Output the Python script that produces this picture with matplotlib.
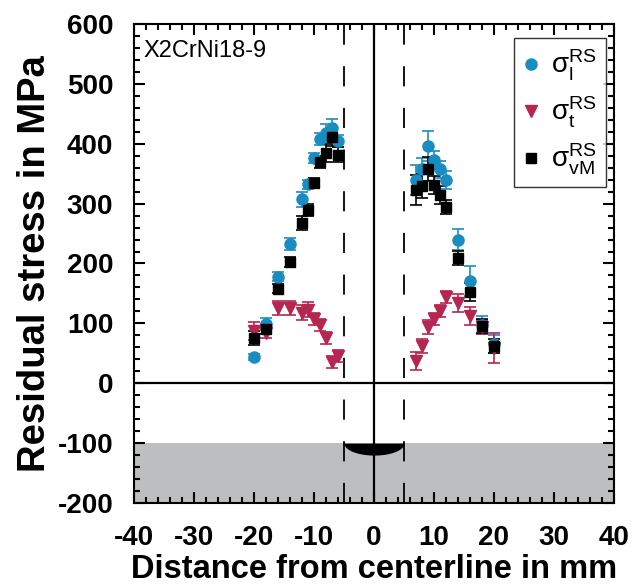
import numpy as np
import matplotlib
matplotlib.use('Agg')
import matplotlib.pyplot as plt
from matplotlib.ticker import MultipleLocator

plt.rcParams['font.family'] = ['Liberation Sans', 'DejaVu Sans']
plt.rcParams['mathtext.fontset'] = 'custom'
plt.rcParams['mathtext.rm'] = 'Liberation Sans'
plt.rcParams['mathtext.it'] = 'Liberation Sans:italic'
plt.rcParams['lines.scale_dashes'] = False
plt.rcParams['axes.unicode_minus'] = False

# positions (mm)
x_left = [-20, -18, -16, -14, -12, -11, -10, -9, -8, -7, -6]
x_right = [7, 8, 9, 10, 11, 12, 14, 16, 18, 20]

# longitudinal residual stress
sl_left = [43, 99, 178, 233, 307, 332, 376, 408, 418, 427, 404]
sl_right = [340, 357, 397, 373, 357, 339, 240, 171, 98, 65]
sl_err_left = [5, 10, 8, 10, 12, 8, 8, 10, 15, 15, 10]
sl_err_right = [25, 20, 25, 15, 15, 15, 18, 25, 15, 15]

# transverse residual stress
st_left = [87, 84, 126, 126, 118, 123, 107, 97, 76, 35, 45]
st_right = [37, 62, 94, 107, 120, 144, 134, 112, 94, 59]
st_err_left = [15, 8, 12, 12, 12, 12, 10, 10, 10, 10, 10]
st_err_right = [15, 12, 12, 10, 10, 10, 15, 15, 12, 25]

# von Mises equivalent
svm_left = [76, 91, 158, 202, 268, 290, 334, 370, 385, 411, 382]
svm_right = [322, 329, 358, 331, 314, 294, 209, 152, 96, 62]
svm_err_left = [12, 8, 8, 8, 12, 10, 8, 10, 15, 15, 12]
svm_err_right = [25, 20, 20, 15, 15, 12, 12, 15, 12, 12]

blue = '#1a8dc0'
red = '#b52650'

fig = plt.figure(figsize=(6.36, 5.88), dpi=100)
ax = fig.add_axes([0.2107, 0.1446, 0.7547, 0.8146])

# plate region and weld seam
ax.axhspan(-200, -100, color='#bcbec0', zorder=0, lw=0)
weld_half = 5
weld_depth = 20
xw = np.linspace(-weld_half, weld_half, 200)
ax.fill_between(xw, -100, -100 - weld_depth * np.sqrt(1 - (xw / weld_half) ** 2),
                color='black', zorder=1, lw=0)

ax.axhline(0, color='black', lw=1.6, zorder=2)
ax.axvline(0, color='black', lw=1.6, zorder=2)
for xv in (-weld_half, weld_half):
    ax.axvline(xv, color='black', lw=1.3, dashes=(14.5, 15.5), zorder=2)

x_all = x_left + x_right
ekw = dict(ls='none', elinewidth=1.2, capsize=4, capthick=1.2, zorder=4)
ax.errorbar(x_all, sl_left + sl_right, yerr=sl_err_left + sl_err_right,
            fmt='o', color=blue, ms=8, mec=blue, **ekw)
ax.errorbar(x_all, st_left + st_right, yerr=st_err_left + st_err_right,
            fmt='v', color=red, ms=9, **ekw)
ax.errorbar(x_all, svm_left + svm_right, yerr=svm_err_left + svm_err_right,
            fmt='s', color='black', ms=7, **ekw)

# legend handles (markers only)
h1, = ax.plot([], [], 'o', color=blue, ms=8)
h2, = ax.plot([], [], 'v', color=red, ms=9)
h3, = ax.plot([], [], 's', color='black', ms=7)
leg = ax.legend([h1, h2, h3],
                [r'$\mathrm{σ}_\mathrm{l}^\mathrm{RS}$',
                 r'$\mathrm{σ}_\mathrm{t}^\mathrm{RS}$',
                 r'$\mathrm{σ}_\mathrm{vM}^\mathrm{RS}$'],
                loc='upper right', bbox_to_anchor=(0.983, 0.97), fontsize=20,
                frameon=True, fancybox=False, edgecolor='black',
                handlelength=0.5, handletextpad=0.45, labelspacing=0.42,
                borderpad=0.35, borderaxespad=0)
leg.get_frame().set_linewidth(1.0)

ax.text(-38.5, 555, 'X2CrNi18-9', fontsize=17, va='center', ha='left')

ax.set_xlim(-40, 40)
ax.set_ylim(-200, 600)
ax.xaxis.set_major_locator(MultipleLocator(10))
ax.xaxis.set_minor_locator(MultipleLocator(2))
ax.yaxis.set_major_locator(MultipleLocator(100))
ax.yaxis.set_minor_locator(MultipleLocator(20))
ax.tick_params(which='both', direction='in', top=True, right=True, width=1.5)
ax.tick_params(which='major', length=8, labelsize=20)
ax.tick_params(axis='x', which='major', pad=16)
ax.tick_params(axis='y', which='major', pad=15)
ax.tick_params(which='minor', length=4)
for lab in ax.get_xticklabels() + ax.get_yticklabels():
    lab.set_fontweight('bold')
for sp in ax.spines.values():
    sp.set_linewidth(1.5)

ax.set_xlabel('Distance from centerline in mm', fontsize=23.5, fontweight='bold', labelpad=2)
ax.set_ylabel('Residual stress in MPa', fontsize=27.5, fontweight='bold', labelpad=3)

plt.savefig('out.png', dpi=100)
